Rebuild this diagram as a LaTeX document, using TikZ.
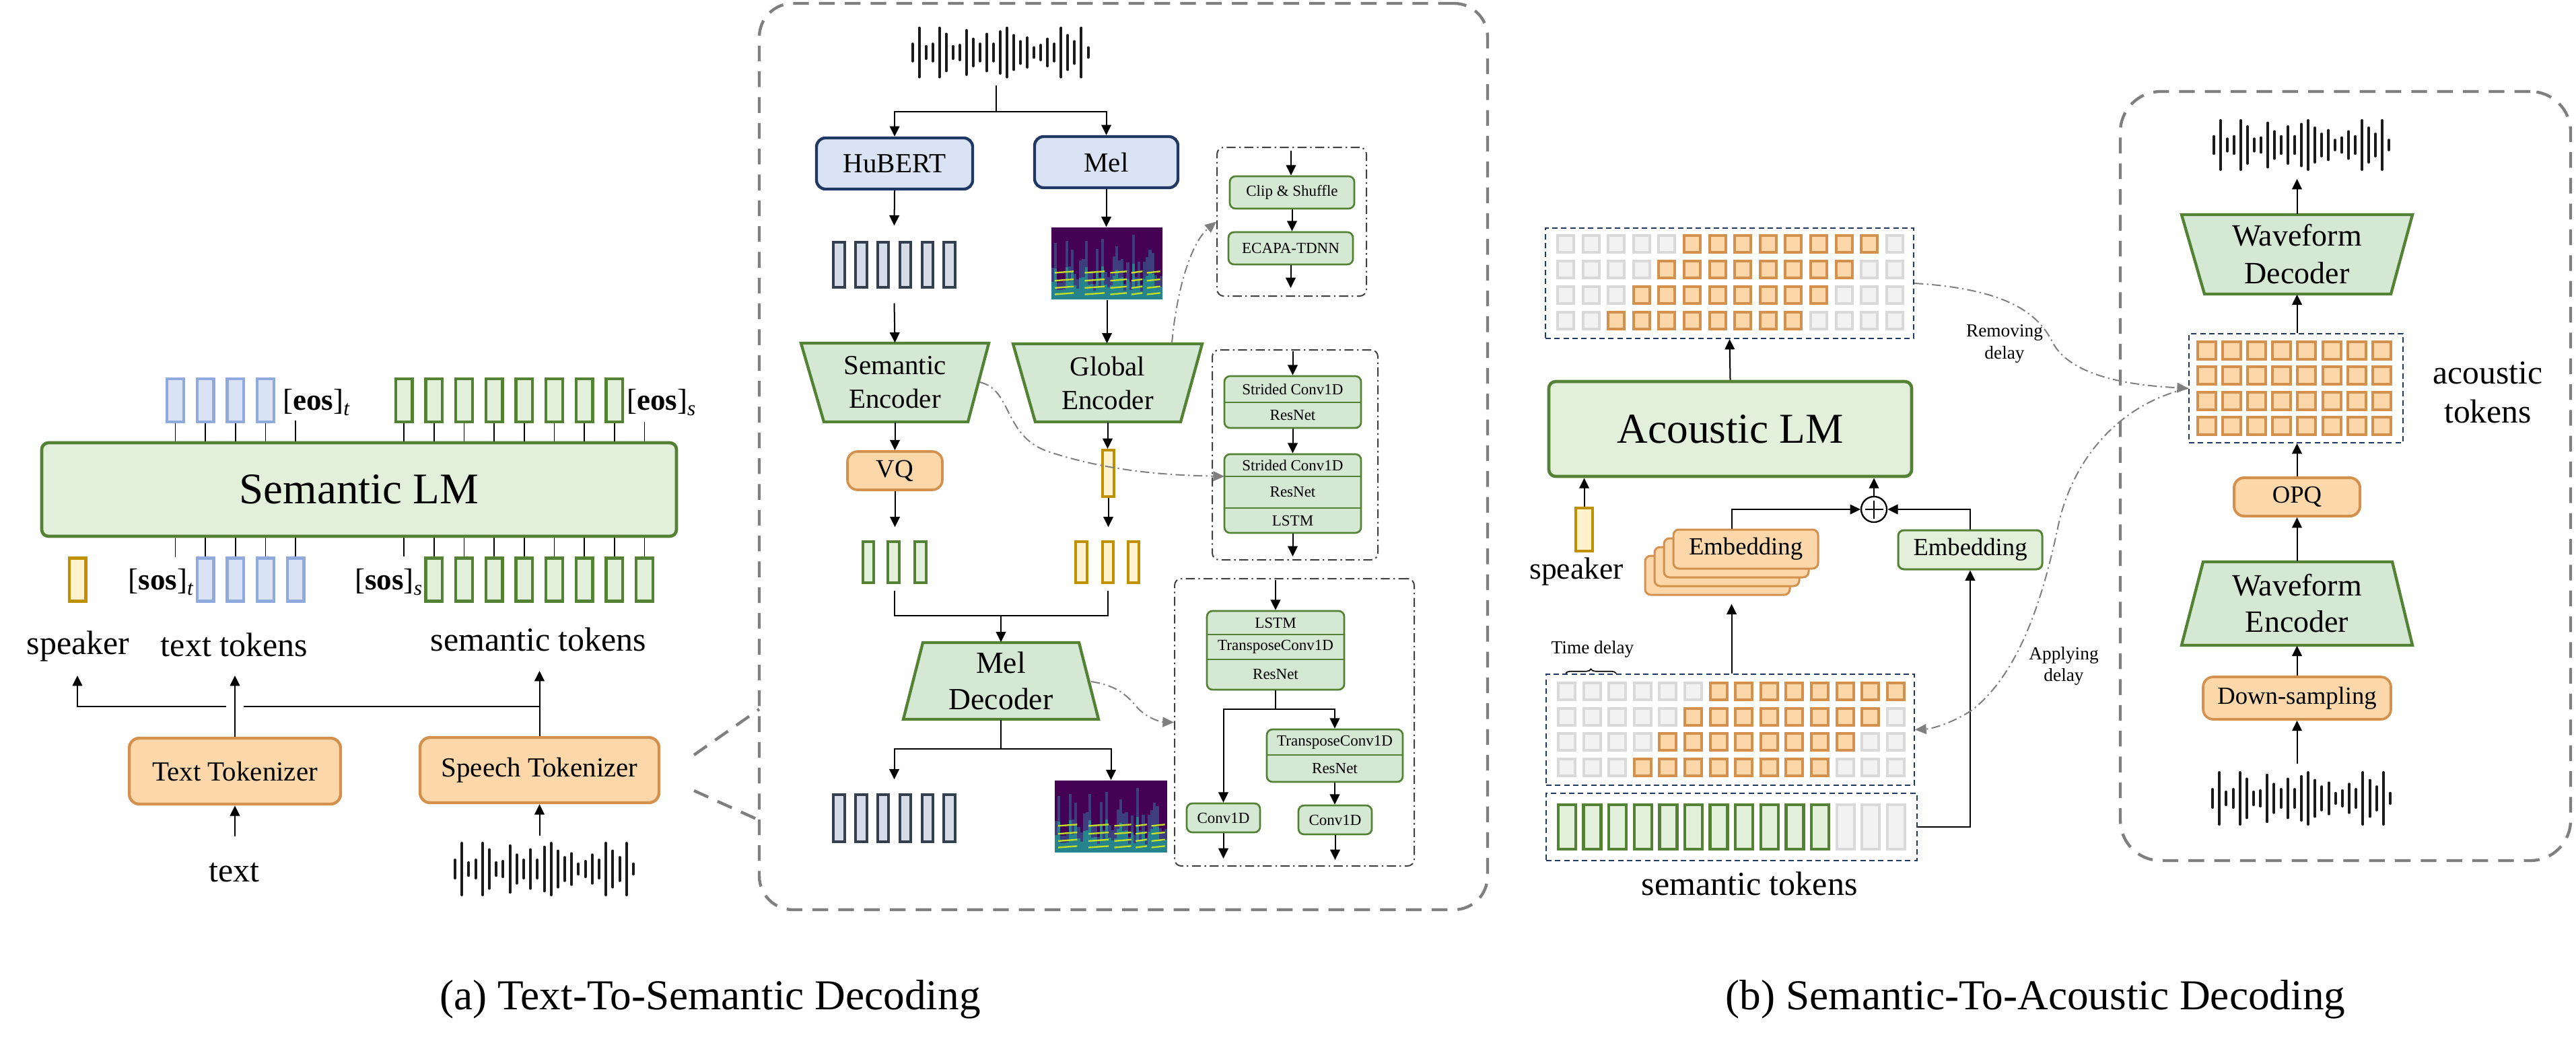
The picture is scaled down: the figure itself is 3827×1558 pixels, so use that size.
\documentclass[tikz,border=0pt]{standalone}
\usepackage{fontspec}
\setmainfont{Liberation Serif}
\usetikzlibrary{arrows.meta,calc,decorations.pathreplacing}
\definecolor{lmfill}{HTML}{E2EFDA}
\definecolor{gline}{HTML}{548235}
\definecolor{trfill}{HTML}{D5E8D4}
\definecolor{bfill}{HTML}{DAE3F3}
\definecolor{bline}{HTML}{8FAADC}
\definecolor{navy}{HTML}{1F3864}
\definecolor{yfill}{HTML}{FFF2CC}
\definecolor{yline}{HTML}{BF9000}
\definecolor{ofill}{HTML}{FBD7A9}
\definecolor{oline}{HTML}{D4914D}
\definecolor{dfill}{HTML}{D6DCE5}
\definecolor{dline}{HTML}{333F50}
\definecolor{cgfill}{HTML}{F2F2F2}
\definecolor{cgline}{HTML}{D9D9D9}
\definecolor{pgray}{HTML}{7F7F7F}
\definecolor{sbgray}{HTML}{404040}
\definecolor{specbg}{HTML}{440154}
\definecolor{spA}{HTML}{3B528B}
\definecolor{spB}{HTML}{21918C}
\definecolor{spY}{HTML}{C2DF23}
\definecolor{wcol}{HTML}{1A1A1A}
\newcommand\fsz[2]{\fontsize{#1pt}{#2pt}\selectfont}
\newcommand\wavebars[4]{%
  \foreach \hh [count=\ii from 0] in {0.35,1.0,0.25,0.35,1.0,0.75,0.25,0.3,0.9,0.55,0.35,0.75,0.35,0.85,1.0,0.7,0.45,0.6,0.2,0.3,0.55,0.35,1.0,0.7,0.45,1.0,0.2}{%
    \draw[wbar] ({#1-#3/2+(\ii+0.5)*#3/27},{#2-\hh*#4/2}) -- ({#1-#3/2+(\ii+0.5)*#3/27},{#2+\hh*#4/2});
  }}
\newcommand\spectro[4]{%
  \fill[specbg] (#1,#2) rectangle ({#1+#3},{#2+#4});
  \foreach \ii in {0,...,39}{%
    \pgfmathsetmacro\hf{0.2+0.7*abs(sin(\ii*83+20))*abs(cos(\ii*31))}
    \pgfmathsetmacro\xa{#1+\ii*#3/40}
    \fill[spA!75!specbg] (\xa,{#2+#4}) rectangle ({\xa+#3/40},{#2+(1-\hf)*#4});
    \fill[spB!80!spA] (\xa,{#2+#4}) rectangle ({\xa+#3/40},{#2+(1-0.55*\hf)*#4});
  }
  \foreach \pa/\pb in {0.03/0.2,0.3/0.48,0.53/0.68,0.72/0.82,0.86/0.98}{%
    \foreach \rr in {0.07,0.16,0.26,0.37}{%
      \draw[spY, line width=0.7pt] ({#1+\pa*#3},{#2+(1-\rr)*#4}) -- ({#1+\pb*#3},{#2+(1-\rr-0.02)*#4});
    }
  }}
\tikzset{
 arr/.style={line width=0.6pt, -{Triangle[length=4.6pt,width=4.4pt]}},
 cline/.style={line width=0.6pt},
 tkline/.style={line width=0.5pt},
 wbar/.style={draw=wcol, line width=1.2pt, line cap=round},
 garr/.style={draw=pgray, line width=0.6pt, dash pattern=on 4pt off 1.6pt on 0.7pt off 1.6pt, -{Triangle[length=5pt,width=4.4pt]}},
 sbox/.style={draw=sbgray, line width=0.6pt, dash pattern=on 4pt off 1.6pt on 0.7pt off 1.6pt, rounded corners=3pt, inner sep=0},
 pbox/.style={draw=pgray, line width=1.3pt, dash pattern=on 7pt off 4.5pt, rounded corners=15pt, inner sep=0},
 gbox/.style={draw=navy, line width=0.6pt, dash pattern=on 2.4pt off 1.6pt, inner sep=0},
 tokB/.style={draw=bline, fill=bfill, line width=1.3pt, inner sep=0, minimum width=7.4pt, minimum height=19.2pt},
 tokG/.style={tokB, draw=gline, fill=lmfill},
 tokY/.style={tokB, draw=yline, fill=yfill},
 tokD/.style={draw=dline, fill=dfill, line width=1.2pt, inner sep=0, minimum width=5pt, minimum height=20.3pt},
 tokg/.style={draw=gline, fill=lmfill, line width=1.2pt, inner sep=0, minimum width=5pt, minimum height=18.3pt},
 toky/.style={draw=yline, fill=yfill, line width=1.2pt, inner sep=0, minimum width=5pt, minimum height=18.3pt},
 lmbox/.style={draw=gline, fill=lmfill, line width=1.4pt, rounded corners=3pt, inner sep=0, font=\fsz{19.5}{22}},
 obox/.style={draw=oline, fill=ofill, line width=1.3pt, rounded corners=4.5pt, inner sep=0},
 hbox/.style={draw=navy, fill=bfill, line width=1.3pt, rounded corners=4pt, inner sep=0, font=\fsz{12.3}{15}},
 blk/.style={draw=gline, fill=trfill, line width=0.8pt, rounded corners=2.5pt, inner sep=0},
 rowt/.style={inner sep=0, font=\fsz{6.9}{8}},
 blkdiv/.style={draw=gline, line width=0.8pt},
 trap/.style={fill=trfill, draw=gline, line width=1.3pt, line join=miter},
 trapt/.style={inner sep=0, align=center},
 lbl/.style={inner sep=0, font=\fsz{15}{17}},
 small/.style={inner sep=0, font=\fsz{8.2}{9.8}, align=center},
 ghost/.style={inner sep=0},
 cellg/.style={fill=cgfill, draw=cgline, line width=1.2pt},
 cello/.style={fill=ofill, draw=oline, line width=1.2pt},
 cellgr/.style={fill=lmfill, draw=gline, line width=1.3pt},
 ebox/.style={draw=oline, fill=ofill, line width=0.9pt, rounded corners=2.5pt, inner sep=0, font=\fsz{11}{13}},
}
\begin{document}
\begin{tikzpicture}[x=0.3pt,y=-0.3pt]
\useasboundingbox (0,0) rectangle (3827,1558);
\fill[white] (0,0) rectangle (3827,1558);

% ================= panels =================
\node[pbox, minimum width=324.6pt, minimum height=404.1pt] (pa) at (1669,678.5) {};
\node[pbox, minimum width=200.7pt, minimum height=342.9pt, rounded corners=18pt] (pb) at (3484.5,707.5) {};

% ================= left part =================
\node[lmbox, minimum width=282.9pt, minimum height=41.7pt] (lm) at (533.5,727.5) {Semantic LM};
\foreach \k in {1,...,4} \node[tokB] (bt\k) at ({260.5+44.7*(\k-1)},595) {};
\foreach \k in {1,...,8} \node[tokG] (gt\k) at ({600+44.7*(\k-1)},595) {};
\foreach \k in {1,...,4} \node[tokB] (bb\k) at ({260.5+44.7*\k},861.5) {};
\foreach \k in {1,...,8} \node[tokG] (gb\k) at ({600+44.7*\k},861.5) {};
\node[tokY] (spk) at (115,861.5) {};
\foreach \k in {1,...,4} \draw[tkline] (bt\k.south) -- (bt\k.south |- lm.north);
\foreach \k in {1,...,8} \draw[tkline] (gt\k.south) -- (gt\k.south |- lm.north);
\foreach \k in {1,...,4} \draw[tkline] (bb\k.north) -- (bb\k.north |- lm.south);
\foreach \k in {1,...,8} \draw[tkline] (gb\k.north) -- (gb\k.north |- lm.south);
\coordinate (eost) at (439.3,625);
\coordinate (eoss) at (957.6,627);
\coordinate (sost) at (260.5,828);
\coordinate (soss) at (600,827);
\draw[tkline] (eost) -- (eost |- lm.north);
\draw[tkline] (eoss) -- (eoss |- lm.north);
\draw[tkline] (sost) -- (sost |- lm.south);
\draw[tkline] (soss) -- (soss |- lm.south);
\node[lbl, font=\fsz{13.5}{15}] (eosT) at (471,598) {[\textbf{eos}]\textsubscript{\textit{t}}};
\node[lbl, font=\fsz{13.5}{15}] (eosS) at (983,598) {[\textbf{eos}]\textsubscript{\textit{s}}};
\node[lbl, font=\fsz{13.5}{15}] (sosT) at (240,865) {[\textbf{sos}]\textsubscript{\textit{t}}};
\node[lbl, font=\fsz{13.5}{15}] (sosS) at (578,865) {[\textbf{sos}]\textsubscript{\textit{s}}};
\node[lbl, anchor=base] (lspk) at (116,972) {speaker};
\node[lbl, anchor=base] (ltt) at (348,975) {text tokens};
\node[lbl, anchor=base] (lst) at (800,967) {semantic tokens};

\node[obox, minimum width=94.2pt, minimum height=29.4pt, font=\fsz{12.3}{14}] (tt) at (349,1146) {Text Tokenizer};
\node[obox, minimum width=106.5pt, minimum height=29.1pt, font=\fsz{12.3}{14}] (st) at (801.5,1144.5) {Speech Tokenizer};
\node[lbl, anchor=base] (ltext) at (348,1310) {text};
\wavebars{808.5}{1291.5}{275}{77}
\coordinate (aspk) at (115,1004);
\coordinate (atxt) at (349,1004);
\coordinate (asem) at (801.5,997);
\coordinate (jr) at (801.5,1050);
\coordinate (jl) at (362,1050);
\coordinate (jl2) at (336,1050);
\coordinate (intxt) at (349,1243);
\coordinate (inwav) at (801.5,1242);
\draw[arr] (tt.north) -- (atxt);
\draw[arr] (st.north) -- (asem);
\draw[cline] (jr) -- (jl);
\draw[arr] (jl2) -| (aspk);
\draw[arr] (intxt) -- (tt.south);
\draw[arr] (inwav) -- (st.south);
\coordinate (f1) at (1031,1122);
\coordinate (f2) at (1128,1054);
\coordinate (f3) at (1031,1175);
\coordinate (f4) at (1128,1219);
\draw[draw=pgray, line width=1.3pt, dash pattern=on 7pt off 4.5pt] (f1) -- (f2);
\draw[draw=pgray, line width=1.3pt, dash pattern=on 7pt off 4.5pt] (f3) -- (f4);

% ================= middle panel =================
\wavebars{1486}{78}{271}{73}
\coordinate (w1b) at (1480,127);
\coordinate (w1s) at (1480,166);
\node[hbox, minimum width=69.6pt, minimum height=22.8pt] (hub) at (1329,243) {HuBERT};
\node[hbox, minimum width=63.9pt, minimum height=22.8pt] (mel) at (1643.5,241) {Mel};
\draw[cline] (w1b) -- (w1s);
\draw[arr] (w1s) -| (hub.north);
\draw[arr] (w1s) -| (mel.north);
\foreach \k in {0,...,5} \node[tokD] (ht\k) at ({1246.3+32.9*\k},393.5) {};
\node[ghost, minimum width=55.5pt, minimum height=34.2pt] (htok) at (1328.5,393) {};
\spectro{1562}{338}{165}{107}
\node[ghost, minimum width=49.5pt, minimum height=32.1pt] (spec1) at (1644.5,391.5) {};
\draw[arr] (hub.south) -- (htok.north);
\draw[arr] (mel.south) -- (mel.south |- spec1.north);
% encoders
\filldraw[trap] (1190,510) -- (1469,510) -- (1438,627) -- (1224,627) -- cycle;
\node[trapt, minimum width=83.7pt, minimum height=35.1pt, font=\fsz{12.3}{15}] (senc) at (1329.5,568.5) {Semantic\\Encoder};
\filldraw[trap] (1505,511) -- (1786,511) -- (1754,627) -- (1538,627) -- cycle;
\node[trapt, minimum width=84.3pt, minimum height=34.8pt, font=\fsz{12.3}{15}] (genc) at (1645.5,569) {Global\\Encoder};
\draw[arr] (htok.south) -- (senc.north);
\draw[arr] (spec1.south) -- (spec1.south |- genc.north);
\node[obox, minimum width=42.3pt, minimum height=17.1pt, line width=1.1pt, font=\fsz{11.5}{13}] (vq) at (1329.5,699.5) {VQ};
\node[draw=yline, fill=yfill, line width=1.2pt, inner sep=0, minimum width=5.1pt, minimum height=20.7pt] (yg) at (1646.5,703.5) {};
\draw[arr] (senc.south) -- (vq.north);
\draw[arr] (genc.south) -- (genc.south |- yg.north);
\foreach \xx [count=\k] in {1290,1327.5,1367.5} \node[tokg] (gs\k) at (\xx,835.5) {};
\foreach \xx [count=\k] in {1606.5,1646,1684} \node[toky] (ys\k) at (\xx,835.5) {};
\node[ghost, minimum width=29.4pt, minimum height=27.9pt] (gtok) at (1329,830.5) {};
\node[ghost, minimum width=29.7pt, minimum height=27.9pt] (ytok) at (1645.5,830.5) {};
\draw[arr] (vq.south) -- (vq.south |- gtok.north);
\draw[arr] (yg.south) -- (yg.south |- ytok.north);
\coordinate (mj) at (1487,915);
\draw[cline] (gtok.south) |- (mj) -| (ytok.south);
\filldraw[trap] (1371,955) -- (1603,955) -- (1632,1069) -- (1342,1069) -- cycle;
\node[trapt, minimum width=87pt, minimum height=34.2pt, font=\fsz{13.7}{16.2}] (mdec) at (1487,1012) {Mel\\Decoder};
\draw[arr] (mj) -- (mdec.north);
\coordinate (bj) at (1487,1113);
\foreach \k in {0,...,5} \node[tokD, minimum height=21pt] (hb\k) at ({1246.3+32.9*\k},1216) {};
\node[ghost, minimum width=55.5pt, minimum height=28.2pt] (btok) at (1328.5,1206) {};
\spectro{1567}{1160}{167}{107}
\node[ghost, minimum width=50.1pt, minimum height=32.1pt] (spec2) at (1650.5,1213.5) {};
\draw[cline] (mdec.south) -- (bj);
\draw[arr] (bj) -| (btok.north);
\draw[arr] (bj) -| (spec2.north);

% ---- sub-box 1
\node[sbox, minimum width=66.6pt, minimum height=66.3pt] (sb1) at (1919,329.5) {};
\node[blk, minimum width=55.5pt, minimum height=14.4pt, font=\fsz{6.9}{8}] (cs) at (1919.5,286) {Clip \& Shuffle};
\node[blk, minimum width=55.5pt, minimum height=14.4pt, font=\fsz{6.9}{8}] (ecapa) at (1917.5,369) {ECAPA-TDNN};
\coordinate (sb1in) at (1918,224);
\coordinate (sb1out) at (1918,428);
\draw[arr] (sb1in) -- (sb1in |- cs.north);
\draw[arr] (cs.south) -- (cs.south |- ecapa.north);
\draw[arr] (ecapa.south) -- (ecapa.south |- sb1out);
% ---- sub-box 2
\node[sbox, minimum width=73.8pt, minimum height=93.6pt] (sb2) at (1924,676) {};
\node[blk, minimum width=60.9pt, minimum height=23.1pt] (blkA) at (1920.5,597.5) {};
\node[rowt] (bA1) at (1920.5,578.5) {Strided Conv1D};
\node[rowt] (bA2) at (1920.5,617) {ResNet};
\draw[blkdiv] (1819,598) -- (2022,598);
\node[blk, minimum width=60.9pt, minimum height=35.1pt] (blkB) at (1920.5,733.5) {};
\node[rowt] (bB1) at (1920.5,691.5) {Strided Conv1D};
\node[rowt] (bB2) at (1920.5,731.5) {ResNet};
\node[rowt] (bB3) at (1920.5,773.5) {LSTM};
\draw[blkdiv] (1819,708) -- (2022,708);
\draw[blkdiv] (1819,755) -- (2022,755);
\coordinate (sb2in) at (1920.5,522);
\coordinate (sb2out) at (1920.5,827);
\coordinate (bBw) at (1819,708);
\draw[arr] (sb2in) -- (blkA.north);
\draw[arr] (blkA.south) -- (blkB.north);
\draw[arr] (blkB.south) -- (sb2out);
% ---- sub-box 3
\node[sbox, minimum width=106.8pt, minimum height=128.1pt] (sb3) at (1923,1073.5) {};
\node[blk, minimum width=61.2pt, minimum height=35.1pt] (blkC) at (1895,966.5) {};
\node[rowt] (bC1) at (1895,925.5) {LSTM};
\node[rowt] (bC2) at (1895,961.5) {TransposeConv1D};
\node[rowt] (bC3) at (1895,1002.5) {ResNet};
\draw[blkdiv] (1793,943) -- (1997,943);
\draw[blkdiv] (1793,980) -- (1997,980);
\node[blk, minimum width=60.6pt, minimum height=23.4pt] (blkD) at (1983,1123) {};
\node[rowt] (bD1) at (1983,1103) {TransposeConv1D};
\node[rowt] (bD2) at (1983,1142) {ResNet};
\draw[blkdiv] (1882,1122) -- (2084,1122);
\node[blk, minimum width=32.7pt, minimum height=12.9pt, font=\fsz{6.9}{8}] (convL) at (1817.5,1215.5) {Conv1D};
\node[blk, minimum width=32.7pt, minimum height=12.9pt, font=\fsz{6.9}{8}] (convR) at (1983.5,1218.5) {Conv1D};
\coordinate (sb3in) at (1895,862);
\coordinate (cj) at (1895,1054);
\coordinate (oL) at (1817.5,1276);
\coordinate (oR) at (1983.5,1278);
\draw[arr] (sb3in) -- (blkC.north);
\draw[cline] (blkC.south) -- (cj);
\draw[arr] (cj) -| (convL.north);
\draw[arr] (cj) -| (blkD.north);
\draw[arr] (blkD.south) -- (blkD.south |- convR.north);
\draw[arr] (convL.south) -- (oL);
\draw[arr] (convR.south) -- (oR);
% ---- gray links
\coordinate (g1s) at (1741,510);
\coordinate (g2s) at (1456,568);
\coordinate (g3s) at (1621,1013);
\draw[garr] (g1s) .. controls (1748,430) and (1770,360) .. (sb1.west);
\draw[garr] (g2s) .. controls (1505,580) and (1490,650) .. (1560,672) .. controls (1640,698) and (1720,706) .. (bBw);
\draw[garr] (g3s) .. controls (1655,1018) and (1672,1030) .. (1690,1052) .. controls (1705,1068) and (1725,1073) .. (sb3.west);

% ================= right part =================
\node[gbox, minimum width=164.1pt, minimum height=49.2pt] (ag1) at (2569.5,421) {};
\foreach \rr in {0,...,3}{\foreach \cc in {0,...,13}{\draw[cellg] ({2314+37.6*\cc},{350+38*\rr}) rectangle ++(24,25);}}
\foreach \rr in {0,...,3}{\foreach \kk in {0,...,7}{\draw[cello] ({2314+37.6*(5-\rr+\kk)},{350+38*\rr}) rectangle ++(24,25);}}
\node[lmbox, minimum width=161.7pt, minimum height=42.3pt, font=\fsz{19}{22}] (lm2) at (2570.5,637.5) {Acoustic LM};
\draw[arr] (lm2.north) -- (ag1.south);
\node[tokY] (spk2) at (2353.5,787) {};
\draw[arr] (spk2.north) -- (spk2.north |- lm2.south);
\node[lbl, anchor=base, font=\fsz{13.7}{16}] (lspk2) at (2342,860) {speaker};
\foreach \kk/\xx/\yy in {3/2551.5/855,2/2565.5/842,1/2579.5/829} \node[ebox, minimum width=64.5pt, minimum height=17.4pt] (embL\kk) at (\xx,\yy) {};
\node[ebox, minimum width=64.5pt, minimum height=17.4pt] (emb1) at (2593.5,816) {Embedding};
\node[ghost, minimum width=77.1pt, minimum height=29.1pt] (stack) at (2572.5,835.5) {};
\node[circle, draw, line width=0.7pt, minimum size=11.4pt, inner sep=0, fill=white] (plus) at (2784,757) {};
\draw[line width=0.7pt] ([yshift=-2pt]plus.north) -- ([yshift=2pt]plus.south);
\draw[line width=0.7pt] ([xshift=2pt]plus.west) -- ([xshift=-2pt]plus.east);
\node[draw=gline, fill=lmfill, line width=0.9pt, rounded corners=2.5pt, inner sep=0, minimum width=64.2pt, minimum height=17.4pt, font=\fsz{11}{13}] (emb2) at (2927,817) {Embedding};
\draw[arr] (stack.north) |- (plus.west);
\draw[arr] (emb2.north) |- (plus.east);
\draw[arr] (plus.north) -- (plus.north |- lm2.south);

\node[small] (ltd) at (2366,965) {Time delay};
\draw[decorate, decoration={brace, amplitude=2pt}, line width=0.5pt] (2326,1001) -- (2401,1001);
\node[gbox, minimum width=164.1pt, minimum height=49.5pt] (ag2) at (2570.5,1084.5) {};
\foreach \rr in {0,...,3}{\foreach \cc in {0,...,13}{\draw[cellg] ({2315+37.6*\cc},{1015+37.7*\rr}) rectangle ++(25,25);}}
\foreach \rr in {0,...,3}{\foreach \kk in {0,...,7}{\draw[cello] ({2315+37.6*(6-\rr+\kk)},{1015+37.7*\rr}) rectangle ++(25,25);}}
\node[gbox, minimum width=165.3pt, minimum height=30pt] (sem2) at (2572.5,1229) {};
\foreach \cc in {0,...,10}{\draw[cellgr] ({2315+37.6*\cc},1196) rectangle ++(26,66);}
\foreach \cc in {11,...,13}{\draw[cellg] ({2315+37.6*\cc},1196) rectangle ++(26,66);}
\node[lbl, anchor=base] (lsem2) at (2599,1330) {semantic tokens};
\draw[arr, shorten >=3.9pt] (stack.south |- ag2.north) -- (stack.south);
\draw[arr] (sem2.east) -| (emb2.south);

% ---- right panel
\wavebars{3419}{215.5}{270}{73}
\coordinate (w3t) at (3412.5,266);
\filldraw[trap] (3241,319) -- (3584,319) -- (3552,437) -- (3275,437) -- cycle;
\node[trapt, minimum width=102.9pt, minimum height=35.4pt, font=\fsz{13.8}{16.8}] (wdec) at (3412.5,378) {Waveform\\Decoder};
\draw[arr] (wdec.north) -- (w3t);
\node[gbox, minimum width=95.4pt, minimum height=48.6pt] (ag3) at (3411,577) {};
\foreach \rr in {0,...,3}{\foreach \cc in {0,...,7}{\draw[cello] ({3265+37.1*\cc},{508+37.3*\rr}) rectangle ++(27,26);}}
\draw[arr] (ag3.north -| wdec.south) -- (wdec.south);
\node[lbl, align=center, font=\fsz{14.9}{17.4}] (lat) at (3696,583) {acoustic\\tokens};
\node[obox, minimum width=56.1pt, minimum height=17.1pt, line width=1.2pt, font=\fsz{11}{13}] (opq) at (3412.5,738.5) {OPQ};
\draw[arr] (opq.north) -- (opq.north |- ag3.south);
\filldraw[trap] (3273,835) -- (3554,835) -- (3584,959) -- (3241,959) -- cycle;
\node[trapt, minimum width=102.9pt, minimum height=37.2pt, font=\fsz{13.8}{16.2}] (wenc) at (3412.5,897) {Waveform\\Encoder};
\draw[arr] (wenc.north) -- (opq.south);
\node[obox, minimum width=83.7pt, minimum height=18.9pt, line width=1.1pt, font=\fsz{11}{13}] (ds) at (3412.5,1037.5) {Down-sampling};
\draw[arr] (ds.north) -- (wenc.south);
\wavebars{3419}{1186.5}{274}{77}
\coordinate (w4t) at (3412.5,1135);
\draw[arr] (w4t) -- (ds.south);

% ---- delay curves
\draw[garr] (ag1.east) .. controls (2990,430) and (3030,470) .. (3050,510) .. controls (3075,555) and (3150,572) .. (ag3.west);
\node[small] (lrem) at (2978,511) {Removing\\delay};
\draw[garr] (ag3.west) .. controls (3150,600) and (3080,680) .. (3058,780) .. controls (3035,890) and (3000,1000) .. (2930,1055) .. controls (2900,1075) and (2870,1083) .. (ag2.east);
\node[small] (lapp) at (3066,990) {Applying\\delay};

% ================= captions =================
\node[lbl, anchor=base, font=\fsz{19}{22}] (capa) at (1055,1500) {(a) Text-To-Semantic Decoding};
\node[lbl, anchor=base, font=\fsz{19}{22}] (capb) at (3024,1500) {(b) Semantic-To-Acoustic Decoding};
\end{tikzpicture}
\end{document}
